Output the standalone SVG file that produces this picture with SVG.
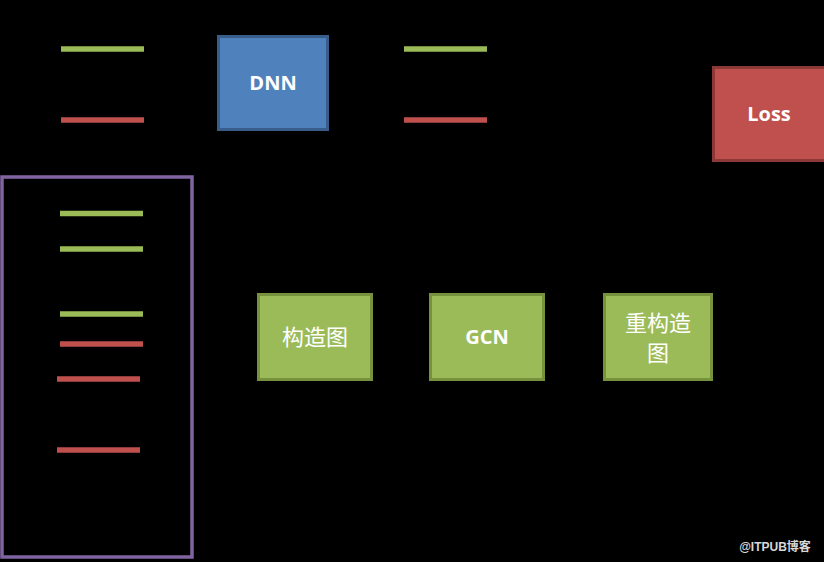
<svg xmlns="http://www.w3.org/2000/svg" width="824" height="562" viewBox="0 0 824 562">
<style>
.g{stroke:#9bbb59;stroke-width:5.5}
.r{stroke:#c0504d;stroke-width:5.5}
.lbl{fill:#ffffff;font-family:"Open Sans","Liberation Sans",sans-serif;font-weight:bold;font-size:20px;text-anchor:middle}
.cjk{fill:#ffffff;font-family:"Noto Sans CJK SC","Noto Sans CJK JP",sans-serif;font-size:22px;text-anchor:middle}
.gbox{fill:#9bbb59;stroke:#76923c;stroke-width:3}
</style>
<rect x="0" y="0" width="824" height="562" fill="#000000"/>
<g id="connectors">
<line class="g" x1="61" y1="49" x2="144" y2="49"/>
<line class="r" x1="61" y1="120" x2="144" y2="120"/>
<line class="g" x1="404" y1="49" x2="487" y2="49"/>
<line class="r" x1="404" y1="120" x2="487" y2="120"/>
</g>
<g id="inputs">
<rect x="2" y="177" width="190" height="380" fill="none" stroke="#8064a2" stroke-width="3.5"/>
<line class="g" x1="60" y1="213.5" x2="143" y2="213.5"/>
<line class="g" x1="60" y1="249" x2="143" y2="249"/>
<line class="g" x1="60" y1="314" x2="143" y2="314"/>
<line class="r" x1="60" y1="344" x2="143" y2="344"/>
<line class="r" x1="57" y1="379" x2="140" y2="379"/>
<line class="r" x1="57" y1="450" x2="140" y2="450"/>
</g>
<g id="dnn">
<rect x="218.5" y="36.5" width="109" height="93" fill="#4f81bd" stroke="#385d8a" stroke-width="3"/>
<text class="lbl" x="273" y="90">DNN</text>
</g>
<g id="loss">
<rect x="713.5" y="67.5" width="112" height="93" fill="#c0504d" stroke="#8c3836" stroke-width="3"/>
<text class="lbl" x="769" y="121">Loss</text>
</g>
<g id="build">
<rect class="gbox" x="258.5" y="294.5" width="113" height="85"/>
<text class="cjk" x="315" y="345">构造图</text>
</g>
<g id="gcn">
<rect class="gbox" x="430.5" y="294.5" width="113" height="85"/>
<text class="lbl" x="487" y="344">GCN</text>
</g>
<g id="rebuild">
<rect class="gbox" x="604.5" y="294.5" width="107" height="85"/>
<text class="cjk" x="658" y="331" font-size="20">重构造</text>
<text class="cjk" x="658" y="361" font-size="20">图</text>
</g>
<text x="775" y="551" fill="#d8d8d8" font-family="'Liberation Sans','Noto Sans CJK SC',sans-serif" font-weight="bold" font-size="12" text-anchor="middle">@ITPUB博客</text>
</svg>
